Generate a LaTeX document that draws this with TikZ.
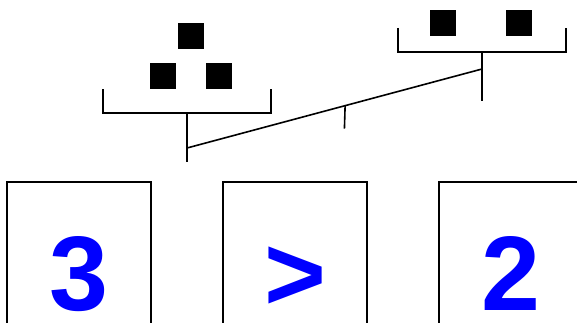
\documentclass[tikz,border=0pt]{standalone}
\usepackage{fontspec}
\setmainfont{Liberation Sans}
\usetikzlibrary{calc}

\begin{document}
\begin{tikzpicture}[
  x=1pt, y=1pt,
  line cap=butt, line join=miter,
  sym/.style={inner sep=0pt, text=blue, text height=77pt, text depth=0pt,
              font=\fontsize{106}{120}\selectfont\bfseries},
  wt/.style={fill=black, draw=none, minimum size=26pt, inner sep=0pt},
  ln/.style={draw=black, line width=1.6pt},
]
\useasboundingbox (0,0) rectangle (577,322);
\clip (0,0) rectangle (577,322);

\node[sym] (left)  at ( 79,50) {3};
\node[sym] (rel)   at (295,50) {>};
\node[sym] (right) at (511,50) {2};

\foreach \c in {left,rel,right}
  \draw[ln] ($(\c)+(-72,-60)$) |- ($(\c)+(72,90)$) -- ++(0,-150);

\coordinate (lpan)  at (187,209);
\coordinate (rpan)  at (482,270);
\coordinate (lhang) at (187,174);
\coordinate (rhang) at (482,253);
\coordinate (lfoot) at (187,160);
\coordinate (rfoot) at (482,221);

\node[wt] (l1) at (191,286) {};
\node[wt] (l2) at (163,246) {};
\node[wt] (l3) at (219,246) {};
\node[wt] (r1) at (443,299) {};
\node[wt] (r2) at (519,299) {};

\draw[ln] ($(lpan)+(-84,24)$) -- ++(0,-24) -- ++(168,0) -- ++(0,24);
\draw[ln] ($(rpan)+(-84,24)$) -- ++(0,-24) -- ++(168,0) -- ++(0,24);
\draw[ln] (lpan) -- (lfoot);
\draw[ln] (rpan) -- (rfoot);
\draw[ln] (lhang) -- (rhang);
\coordinate (piv) at ($(lhang)!0.536!(rhang)$);
\draw[ln] (piv) -- ++(-0.7,-23);
\end{tikzpicture}
\end{document}
